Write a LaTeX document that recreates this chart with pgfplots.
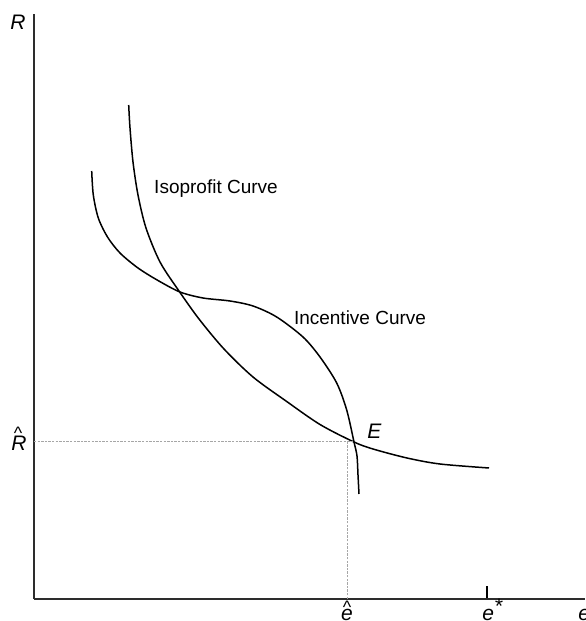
\documentclass[border=0pt]{standalone}
\usepackage{pgfplots}
\pgfplotsset{compat=1.18}
\usepackage{fontspec}
\setmainfont{Liberation Sans}

% curves, pixel grid shifted so the origin is the axes corner
\pgfplotstableread{
x y
94.7 494
96 471
99 437
104 404
112 371
126 337
145 308
165 280
190 250
219 222
252 198
286 174.5
320 157
339 150
373 141
406 135
455 131
}\isoprofit

\pgfplotstableread{
x y
57.7 428
59.3 404
64.3 381
73.5 362
86 346
104 331
124 318.5
146 307
169 301
196 298
219 293
242.7 282
269 262
286 242
302.7 216
312.7 189
320 157
323 143
324 124
325 105
}\incentive

\begin{document}
\begin{tikzpicture}
\begin{axis}[
    x=0.5pt, y=0.5pt,
    xmin=0, xmax=551,
    ymin=0, ymax=585,
    axis x line*=bottom,
    axis y line*=left,
    axis line style={-, draw=gray!35!black, line width=1pt},
    ytick=\empty,
    xtick={453},
    xticklabels={},
    major tick length=6.5pt,
    tick align=inside,
    tick style={black, line width=0.6pt},
    clip=false,
]
\addplot[black, line width=0.75pt, smooth, tension=0.5] table[x=x, y=y] {\isoprofit};
\addplot[black, line width=0.75pt, smooth, tension=0.5] table[x=x, y=y] {\incentive};

\addplot[gray!70, line width=0.5pt, dash pattern=on 1.2pt off 0.6pt]
    coordinates {(0,157) (320,157)};
\addplot[gray!70, line width=0.5pt, dash pattern=on 1.2pt off 0.6pt]
    coordinates {(313,0) (313,157)};

\node[font=\fontsize{9.5}{11}\selectfont] at (axis cs:182,410) {Isoprofit Curve};
\node[font=\fontsize{9.5}{11}\selectfont] at (axis cs:326,281) {Incentive Curve};

\node[anchor=base west, inner sep=0pt, font=\fontsize{10.5}{12}\selectfont\itshape] at (axis cs:333,160) {E};
\node[anchor=base, inner sep=0pt, font=\fontsize{10.5}{12}\selectfont\itshape] at (axis cs:-16,569) {R};
\node[anchor=base, inner sep=0pt, font=\fontsize{10.5}{12}\selectfont\itshape] at (axis cs:-15,148) {R};
\node[anchor=base, inner sep=0pt, font=\fontsize{9}{10}\selectfont] at (axis cs:-16,159) {\^{}};
\node[anchor=base, inner sep=0pt, font=\fontsize{10.5}{12}\selectfont\itshape] at (axis cs:313,-21) {e};
\node[anchor=base, inner sep=0pt, font=\fontsize{9}{10}\selectfont] at (axis cs:313,-15) {\^{}};
\node[anchor=base west, inner sep=0pt, font=\fontsize{10.5}{12}\selectfont\itshape] at (axis cs:448,-21) {e\raisebox{3pt}{*}};
\node[anchor=base west, inner sep=0pt, font=\fontsize{10.5}{12}\selectfont\itshape] at (axis cs:544,-21) {e};

\coordinate (bl) at (axis cs:-34,-22);
\coordinate (tr) at (axis cs:551,599);
\end{axis}
\pgfresetboundingbox
\path[use as bounding box] (bl) rectangle (tr);
\end{tikzpicture}
\end{document}
